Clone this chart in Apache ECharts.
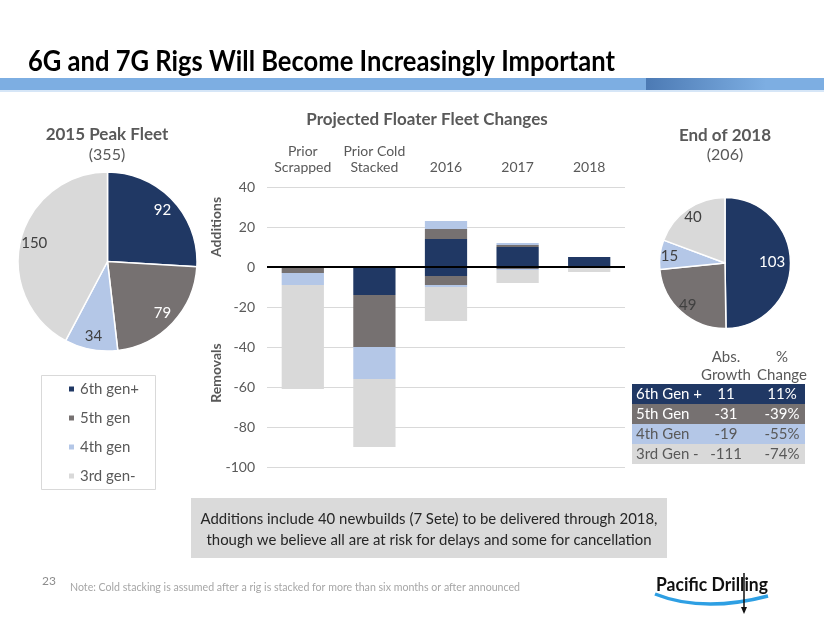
<!DOCTYPE html>
<html><head><meta charset="utf-8">
<script src="https://cdn.jsdelivr.net/npm/echarts@6/dist/echarts.min.js"></script>
<style>html,body{margin:0;padding:0;background:#fff}#c{width:824px;height:637px}</style>
</head><body><div id="c"></div>
<script>
// ---------- data ----------
const categories = ['Prior\nScrapped', 'Prior Cold\nStacked', '2016', '2017', '2018'];
const genNames = ['6th gen+', '5th gen', '4th gen', '3rd gen-'];
const add6 = [0, 0, 14, 10, 5];
const add5 = [0, 0, 5, 1, 0];
const add4 = [0, 0, 4, 1, 0];
const rem6 = [0, -14, -4.5, -0.5, 0];
const rem5 = [-3, -26, -4.5, -0.5, -0.5];
const rem4 = [-6, -16, -1, -0.5, 0];
const rem3 = [-52, -34, -17, -6.5, -2];
const yMin = -100, yMax = 40, yStep = 20;
const fleet2015 = [92, 79, 34, 150];
const fleet2018 = [103, 49, 15, 40];
const tableRows = ['6th Gen +', '5th Gen', '4th Gen', '3rd Gen -'];
const absGrowth = ['11', '-31', '-19', '-111'];
const pctChange = ['11%', '-39%', '-55%', '-74%'];

// ---------- style ----------
const COLORS = ['#203864', '#767171', '#B4C7E7', '#D9D9D9'];
const FONT = 'Lato';
const GRAY = '#595959';
const ctx = document.createElement('canvas').getContext('2d');
function fit(text, font, w) { ctx.font = font; return w / ctx.measureText(text).width; }

const chart = echarts.init(document.getElementById('c'), null, {renderer: 'canvas'});

function barSeries(name, data, color) {
  return {name, type: 'bar', stack: 'all', data, barCategoryGap: '41%',
    itemStyle: {color}, emphasis: {disabled: true}, silent: true};
}
const bars = [
  barSeries('Add 6th', add6, COLORS[0]),
  barSeries('Add 5th', add5, COLORS[1]),
  barSeries('Add 4th', add4, COLORS[2]),
  barSeries('Rem 6th', rem6, COLORS[0]),
  barSeries('Rem 5th', rem5, COLORS[1]),
  barSeries('Rem 4th', rem4, COLORS[2]),
  barSeries('Rem 3rd', rem3, COLORS[3])
];
bars[bars.length - 1].markLine = {
  silent: true, symbol: 'none', label: {show: false},
  lineStyle: {color: '#000', width: 2, type: 'solid'},
  data: [{yAxis: 0}]
};

function pieData(vals, labelColors) {
  return vals.map((v, i) => ({name: genNames[i], value: v,
    itemStyle: {color: COLORS[i]}, label: {color: labelColors[i]}}));
}
function pieBase(center, r, vals) {
  return {type: 'pie', center, radius: [0, r], startAngle: 90, clockwise: true,
    data: pieData(vals, ['#fff','#fff','#fff','#fff']),
    label: {show: false}, labelLine: {show: false},
    itemStyle: {borderColor: '#fff', borderWidth: 1.5},
    emphasis: {disabled: true}, silent: true, animation: false};
}
function pieLabels(center, r, vals, labelColors, layoutFn) {
  const s = {type: 'pie', center, radius: [r * 0.62, r], startAngle: 90, clockwise: true,
    data: pieData(vals, labelColors).map(d => Object.assign(d, {itemStyle: {color: 'rgba(0,0,0,0)'}})),
    label: {show: true, position: 'inside', formatter: '{c}', fontFamily: FONT, fontSize: 15},
    labelLine: {show: false}, emphasis: {disabled: true}, silent: true, animation: false, z: 3};
  if (layoutFn) s.labelLayout = layoutFn;
  return s;
}

const titleText = '6G and 7G Rigs Will Become Increasingly Important';
const titleFont = 'bold 28px ' + FONT;
const noteText = 'Note: Cold stacking is assumed after a rig is stacked for more than six months or after announced';
const noteFont = '11.5px ' + FONT;
const box1 = 'Additions include 40 newbuilds (7 Sete) to be delivered through 2018,';
const box2 = 'though we believe all are at risk for delays and some for cancellation';
const boxFont = '15px ' + FONT;
const boxScale = fit(box1, boxFont, 457);
const logoFont = 'bold 19px ' + FONT;

const graphics = [
  {type: 'text', x: 28, y: 62, scaleX: fit(titleText, titleFont, 587),
    style: {text: titleText, font: titleFont, fill: '#000', verticalAlign: 'middle'}},
  {type: 'rect', shape: {x: 0, y: 78, width: 824, height: 12}, style: {fill: '#7DAEE2'}},
  {type: 'rect', shape: {x: 646, y: 78, width: 120, height: 12},
    style: {fill: new echarts.graphic.LinearGradient(0, 0, 1, 0, [
      {offset: 0, color: '#4C7AB4'}, {offset: 1, color: '#7DAEE2'}])}},
  {type: 'rect', shape: {x: 0, y: 90, width: 824, height: 2}, style: {fill: '#D6E6F7'}},
  // bar chart title and axis names
  {type: 'text', x: 427, y: 120, style: {text: 'Projected Floater Fleet Changes',
    font: 'bold 17px ' + FONT, fill: GRAY, align: 'center', verticalAlign: 'middle'}},
  {type: 'text', x: 216, y: 227, rotation: Math.PI / 2, style: {text: 'Additions',
    font: 'bold 14px ' + FONT, fill: GRAY, align: 'center', verticalAlign: 'middle'}},
  {type: 'text', x: 216, y: 373, rotation: Math.PI / 2, style: {text: 'Removals',
    font: 'bold 14px ' + FONT, fill: GRAY, align: 'center', verticalAlign: 'middle'}},
  // pie titles
  {type: 'text', x: 107, y: 135, style: {text: '2015 Peak Fleet', font: 'bold 17px ' + FONT,
    fill: GRAY, align: 'center', verticalAlign: 'middle'}},
  {type: 'text', x: 107, y: 155, style: {text: '(355)', font: '16px ' + FONT,
    fill: GRAY, align: 'center', verticalAlign: 'middle'}},
  {type: 'text', x: 725, y: 136, style: {text: 'End of 2018', font: 'bold 17px ' + FONT,
    fill: GRAY, align: 'center', verticalAlign: 'middle'}},
  {type: 'text', x: 725, y: 155, style: {text: '(206)', font: '16px ' + FONT,
    fill: GRAY, align: 'center', verticalAlign: 'middle'}},
  // legend box
  {type: 'rect', shape: {x: 41.5, y: 375.5, width: 114, height: 114},
    style: {fill: 'none', stroke: '#D9D9D9', lineWidth: 1}},
  // table header
  {type: 'text', x: 726, y: 357, style: {text: 'Abs.', font: '15px ' + FONT, fill: GRAY, align: 'center', verticalAlign: 'middle'}},
  {type: 'text', x: 726, y: 375, style: {text: 'Growth', font: '15px ' + FONT, fill: GRAY, align: 'center', verticalAlign: 'middle'}},
  {type: 'text', x: 782, y: 357, style: {text: '%', font: '15px ' + FONT, fill: GRAY, align: 'center', verticalAlign: 'middle'}},
  {type: 'text', x: 782, y: 375, style: {text: 'Change', font: '15px ' + FONT, fill: GRAY, align: 'center', verticalAlign: 'middle'}},
  // bottom box
  {type: 'rect', shape: {x: 191, y: 498, width: 476, height: 60}, style: {fill: '#DADADA'}},
  {type: 'text', x: 429, y: 519, scaleX: boxScale, style: {text: box1, font: boxFont, fill: '#262626', align: 'center', verticalAlign: 'middle'}},
  {type: 'text', x: 429, y: 540, scaleX: boxScale, style: {text: box2, font: boxFont, fill: '#262626', align: 'center', verticalAlign: 'middle'}},
  // footer
  {type: 'text', x: 42, y: 581, style: {text: '23', font: '12px ' + FONT, fill: '#8C8C8C', verticalAlign: 'middle'}},
  {type: 'text', x: 70, y: 587, scaleX: fit(noteText, noteFont, 450),
    style: {text: noteText, font: noteFont, fill: '#A6A6A6', verticalAlign: 'middle'}},
  // logo
  {type: 'bezierCurve', shape: {x1: 655, y1: 594, cpx1: 690, cpy1: 608, cpx2: 730, cpy2: 606, x2: 768, y2: 596},
    style: {stroke: '#2E9FE3', lineWidth: 3.5, fill: 'none'}},
  {type: 'line', shape: {x1: 744, y1: 573, x2: 744, y2: 612}, style: {stroke: '#111', lineWidth: 1.5}},
  {type: 'polygon', shape: {points: [[741, 607], [747, 607], [744, 614]]}, style: {fill: '#111'}},
  {type: 'text', x: 656, y: 585, scaleX: fit('Pacific Drilling', logoFont, 112),
    style: {text: 'Pacific Drilling', font: logoFont, fill: '#111', verticalAlign: 'middle'}}
];
tableRows.forEach((name, i) => {
  const y = 384 + i * 20;
  const tc = i < 2 ? '#fff' : GRAY;
  graphics.push({type: 'rect', shape: {x: 632, y, width: 173, height: 20}, style: {fill: COLORS[i]}});
  graphics.push({type: 'text', x: 636, y: y + 10, style: {text: name, font: '15px ' + FONT, fill: tc, verticalAlign: 'middle'}});
  graphics.push({type: 'text', x: 726, y: y + 10, style: {text: absGrowth[i], font: '15px ' + FONT, fill: tc, align: 'center', verticalAlign: 'middle'}});
  graphics.push({type: 'text', x: 782, y: y + 10, style: {text: pctChange[i], font: '15px ' + FONT, fill: tc, align: 'center', verticalAlign: 'middle'}});
});

const option = {
  animation: false,
  backgroundColor: '#fff',
  textStyle: {fontFamily: FONT},
  grid: {left: 267, right: 199, top: 187, bottom: 170, containLabel: false, outerBoundsMode: 'none'},
  xAxis: {type: 'category', data: categories, position: 'top',
    axisLine: {show: false}, axisTick: {show: false},
    axisLabel: {color: GRAY, fontSize: 14, lineHeight: 16, margin: 12, interval: 0, fontFamily: FONT}},
  yAxis: {type: 'value', min: yMin, max: yMax, interval: yStep,
    axisLine: {show: false}, axisTick: {show: false},
    splitLine: {lineStyle: {color: '#D9D9D9', width: 1}},
    axisLabel: {color: GRAY, fontSize: 14, margin: 12, fontFamily: FONT}},
  legend: {data: genNames, orient: 'vertical', left: 67, top: 380, padding: 0,
    itemWidth: 7, itemHeight: 7, itemGap: 11, icon: 'rect', selectedMode: false,
    textStyle: {color: GRAY, fontSize: 15, lineHeight: 18, fontFamily: FONT}},
  series: bars.concat([
    pieBase([107.5, 261.5], 89.5, fleet2015),
    pieLabels([107.5, 261.5], 89.5, fleet2015, ['#fff', '#fff', '#404040', '#404040']),
    pieBase([725, 263], 65.5, fleet2018),
    pieLabels([725, 263], 65.5, fleet2018, ['#fff', '#404040', '#404040', '#404040'],
      p => (p.dataIndex === 0 ? {dx: -9} : {}))
  ]),
  graphic: {elements: graphics}
};
chart.setOption(option);
</script>
</body></html>
